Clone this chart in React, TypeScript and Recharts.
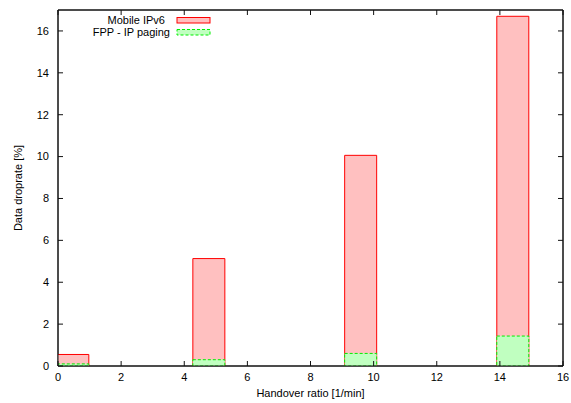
import React from 'react';
import { BarChart, Bar, XAxis, YAxis, ReferenceArea } from 'recharts';

const handoverRatio = [0.47, 4.78, 9.59, 14.41];
const mobileIPv6 = [0.55, 5.13, 10.06, 16.7];
const fppIpPaging = [0.1, 0.3, 0.6, 1.43];
const xTicks = [0, 2, 4, 6, 8, 10, 12, 14, 16];
const yTicks = [0, 2, 4, 6, 8, 10, 12, 14, 16];
const xDomain = [0, 16];
const yDomain = [0, 17];
const seriesNames = ['Mobile IPv6', 'FPP - IP paging'];

const data = handoverRatio.map((x, i) => ({ x, mip: mobileIPv6[i], fpp: fppIpPaging[i] }));

const FONT = '"Liberation Sans", Arial, Helvetica, sans-serif';
const AXIS = '#111';

const LegendBox = () => {
  const rows = [
    { name: seriesNames[0], textRight: 165, fill: '#ffc0c0', stroke: '#ff0000', dash: undefined as string | undefined },
    { name: seriesNames[1], textRight: 170, fill: '#c0ffc0', stroke: '#00ee00', dash: '3 2' },
  ];
  return (
    <svg width={571} height={50} style={{ position: 'absolute', left: 0, top: 0, pointerEvents: 'none' }}>
      {rows.map((r, i) => (
        <g key={r.name}>
          <text x={r.textRight} y={24 + i * 12} textAnchor="end" fontFamily={FONT} fontSize={11} fill="#000">
            {r.name}
          </text>
          <rect x={177} y={17.5 + i * 12} width={33} height={5.5} fill={r.fill} stroke={r.stroke} strokeWidth={1} strokeDasharray={r.dash} />
        </g>
      ))}
    </svg>
  );
};

export default function App() {
  return (
    <div style={{ position: 'absolute', left: 0, top: 0, width: 571, height: 403, background: '#fff' }}>
      <BarChart
        width={571}
        height={403}
        data={data}
        margin={{ top: 5, right: 3, bottom: 0, left: 0 }}
        barSize={32}
        barGap={-32}
      >
        <XAxis
          xAxisId="bottom"
          dataKey="x"
          type="number"
          domain={xDomain}
          ticks={xTicks}
          allowDataOverflow
          height={37}
          tickSize={-5}
          tickMargin={12}
          stroke={AXIS}
          tick={{ fill: '#000', fontSize: 11, fontFamily: FONT }}
          label={(props: any) => {
            const vb = props.viewBox;
            return (
              <text x={vb.x + vb.width / 2} y={vb.y + 31} textAnchor="middle" fontFamily={FONT} fontSize={11} fill="#000">
                Handover ratio [1/min]
              </text>
            );
          }}
        />
        <XAxis
          xAxisId="top"
          dataKey="x"
          type="number"
          orientation="top"
          domain={xDomain}
          ticks={xTicks}
          allowDataOverflow
          height={5}
          tickSize={-5}
          stroke={AXIS}
          tick={{ fill: 'none', fontSize: 1 }}
        />
        <YAxis
          yAxisId="left"
          type="number"
          domain={yDomain}
          ticks={yTicks}
          allowDataOverflow
          width={58}
          tickSize={-5}
          tickMargin={14}
          stroke={AXIS}
          tick={{ fill: '#000', fontSize: 11, fontFamily: FONT }}
          label={(props: any) => {
            const vb = props.viewBox;
            const cx = 22;
            const cy = vb.y + vb.height / 2;
            return (
              <text x={cx} y={cy} transform={`rotate(-90 ${cx} ${cy})`} textAnchor="middle" fontFamily={FONT} fontSize={11} fill="#000">
                Data droprate [%]
              </text>
            );
          }}
        />
        <YAxis
          yAxisId="right"
          type="number"
          orientation="right"
          domain={yDomain}
          ticks={yTicks}
          allowDataOverflow
          width={5}
          tickSize={-5}
          stroke={AXIS}
          tick={{ fill: 'none', fontSize: 1 }}
        />
        <ReferenceArea
          xAxisId="bottom"
          yAxisId="left"
          x1={xDomain[0]}
          x2={xDomain[1]}
          y1={yDomain[0]}
          y2={yDomain[1]}
          fill="none"
          fillOpacity={0}
          stroke={AXIS}
          strokeWidth={1}
          ifOverflow="visible"
        />
        <Bar
          xAxisId="bottom"
          yAxisId="left"
          dataKey="mip"
          name={seriesNames[0]}
          fill="#ffc0c0"
          stroke="#ff0000"
          strokeWidth={1}
          isAnimationActive={false}
        />
        <Bar
          xAxisId="bottom"
          yAxisId="left"
          dataKey="fpp"
          name={seriesNames[1]}
          fill="#c0ffc0"
          stroke="#00ee00"
          strokeWidth={1}
          strokeDasharray="3 2"
          isAnimationActive={false}
        />
      </BarChart>
      <LegendBox />
    </div>
  );
}
